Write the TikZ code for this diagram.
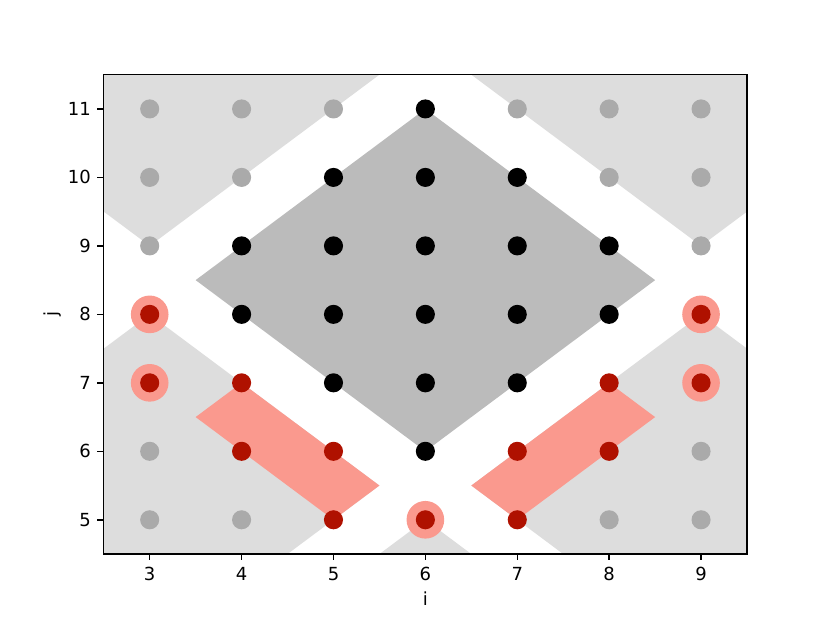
\documentclass[tikz,border=0pt]{standalone}
\usepackage{fontspec}
\setmainfont{DejaVu Sans}
\definecolor{lightreg}{HTML}{DDDDDD}
\definecolor{darkreg}{HTML}{BBBBBB}
\definecolor{dotgray}{HTML}{AAAAAA}
\definecolor{dotred}{HTML}{AF1100}
\definecolor{halo}{HTML}{FA998E}
\tikzset{
  dotg/.style={fill=dotgray},
  dotb/.style={fill=black},
  dotr/.style={fill=dotred},
  halofill/.style={fill=halo},
  ticklab/.style={inner sep=0pt, font=\fontsize{10}{12}\selectfont},
  tickline/.style={line width=0.8pt},
}
\newcommand{\diam}[4]{\fill[#4] (#1-#3,#2) -- (#1,#2+#3) -- (#1+#3,#2) -- (#1,#2-#3) -- cycle;}
\begin{document}
\begin{tikzpicture}[x=51.017pt,y=38.016pt]
\useasboundingbox (1.3710,3.5) rectangle (10.4033,12.5909);
\begin{scope}
\clip (2.5,4.5) rectangle (9.5,11.5);
\diam{3}{12}{3}{lightreg}
\diam{9}{12}{3}{lightreg}
\diam{3}{5.5}{2.5}{lightreg}
\diam{9}{5.5}{2.5}{lightreg}
\diam{6}{2}{3}{lightreg}
\diam{6}{8.5}{2.5}{darkreg}
\fill[halo] (4,7) -- (5.5,5.5) -- (5,5) -- (3.5,6.5) -- cycle;
\fill[halo] (8,7) -- (6.5,5.5) -- (7,5) -- (8.5,6.5) -- cycle;
% halos
\foreach \p in {(3,8),(3,7),(9,8),(9,7),(6,5)} \fill[halofill] \p circle (10.45pt);
% gray dots
\foreach \p in {(3,11),(4,11),(5,11),(7,11),(8,11),(9,11),(3,10),(4,10),(8,10),(9,10),(3,9),(9,9),(3,6),(9,6),(3,5),(4,5),(8,5),(9,5)}
  \fill[dotg] \p circle (5.3pt);
% black dots
\foreach \p in {(6,11),(5,10),(6,10),(7,10),(4,9),(5,9),(6,9),(7,9),(8,9),(4,8),(5,8),(6,8),(7,8),(8,8),(5,7),(6,7),(7,7),(6,6)}
  \fill[dotb] \p circle (5.3pt);
% red dots
\foreach \p in {(3,8),(9,8),(3,7),(4,7),(8,7),(9,7),(4,6),(5,6),(7,6),(8,6),(5,5),(6,5),(7,5)}
  \fill[dotr] \p circle (5.3pt);
\end{scope}
\draw[line width=0.8pt] (2.5,4.5) rectangle (9.5,11.5);
\foreach \i in {3,...,9} {
  \draw[tickline] (\i,4.5) -- ++(0,-3.5pt);
  \node[ticklab, anchor=north] (xt\i) at ([yshift=-7.2pt]\i,4.5) {\i};
}
\foreach \j in {5,...,11} {
  \draw[tickline] (2.5,\j) -- ++(-3.5pt,0);
  \node[ticklab, anchor=east] (yt\j) at ([xshift=-7pt]2.5,\j) {\j};
}
\node[ticklab, anchor=north] (xlab) at ([yshift=-20.6pt]6,4.5) {i};
\node[ticklab, anchor=south, rotate=90] (ylab) at ([xshift=-23.5pt]2.5,8) {j};
\end{tikzpicture}
\end{document}
